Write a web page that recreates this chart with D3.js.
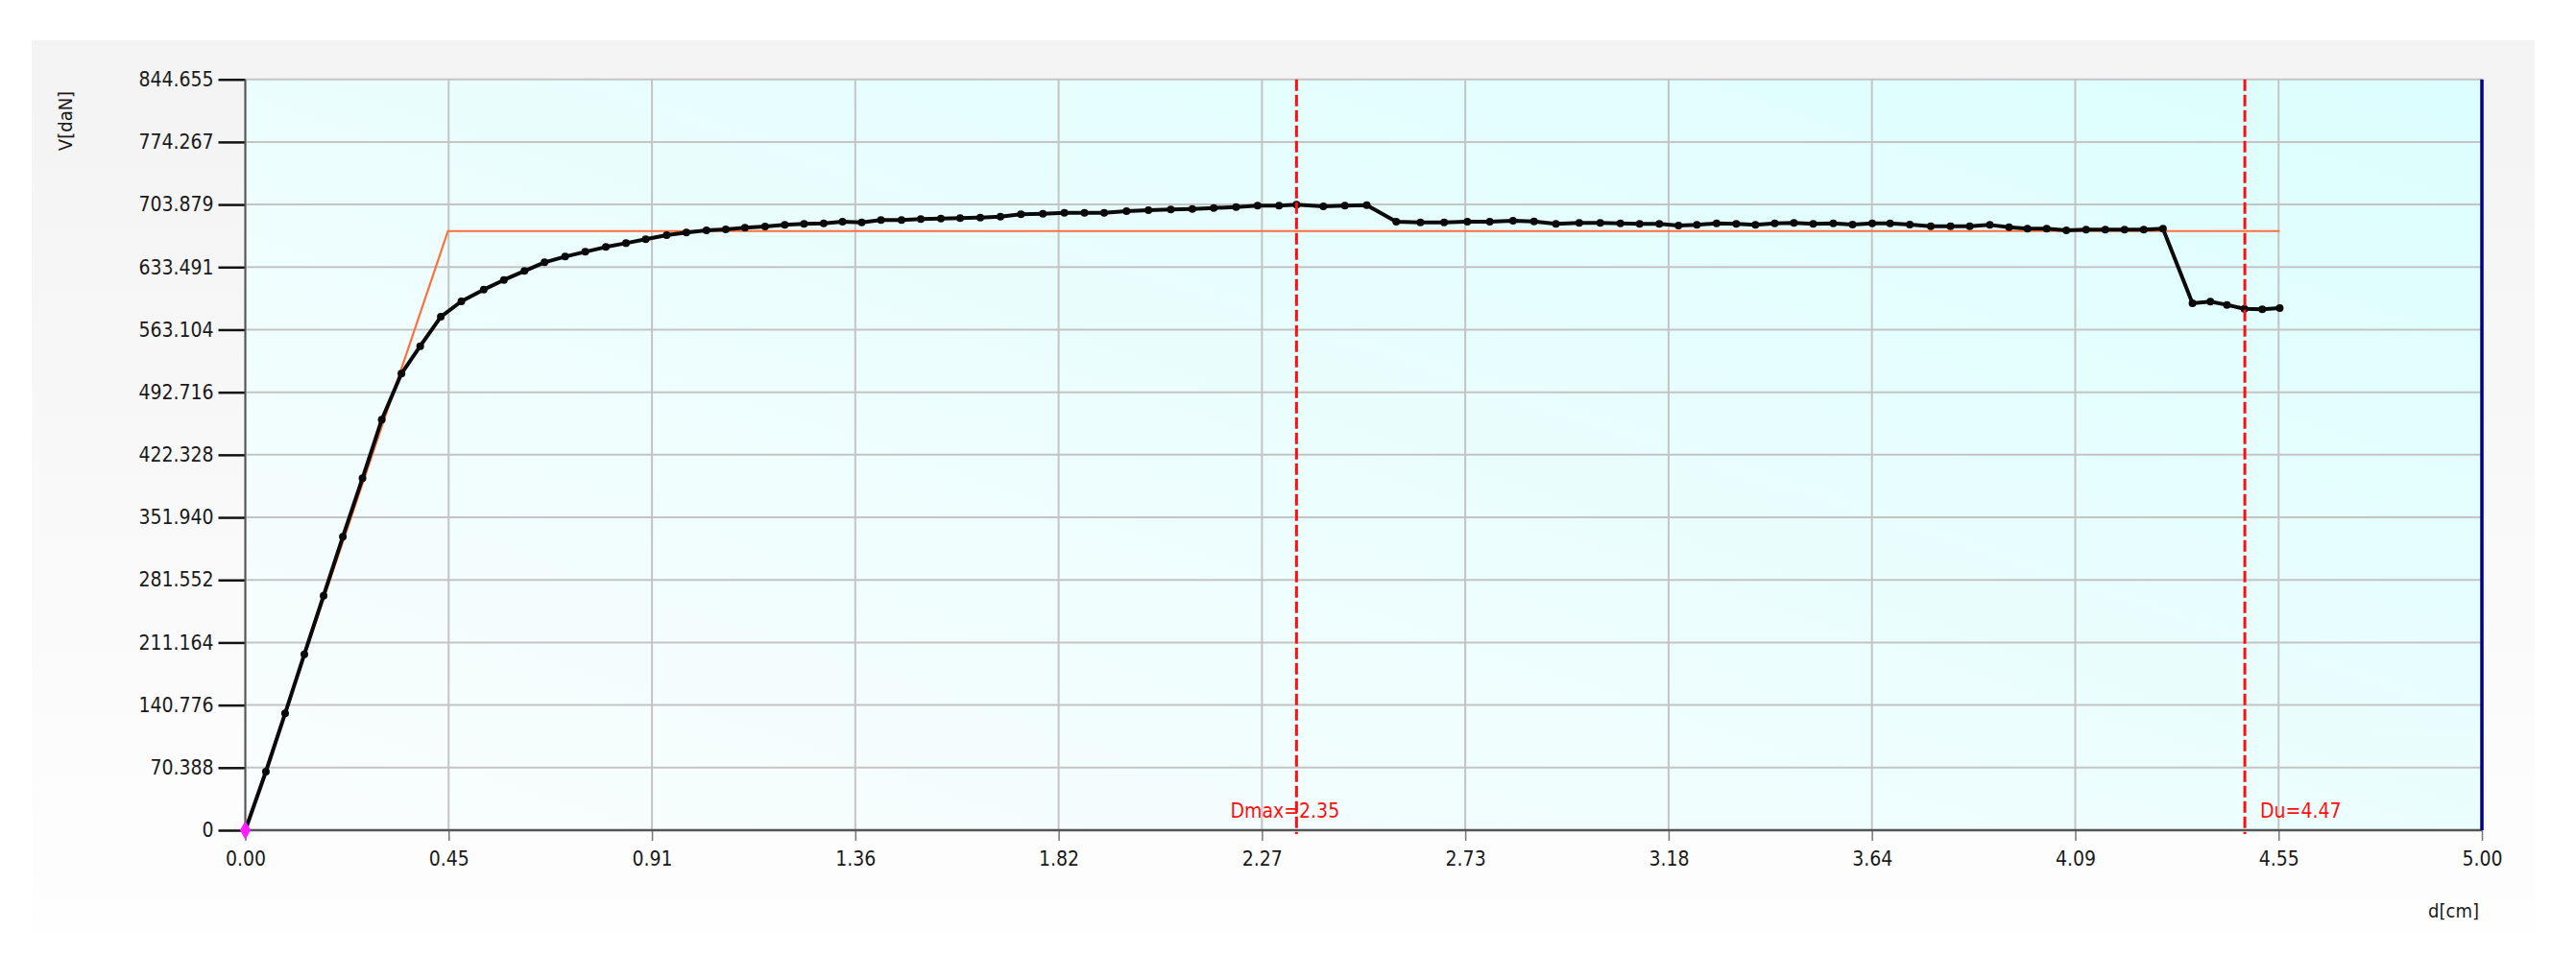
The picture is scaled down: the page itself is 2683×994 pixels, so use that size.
<!DOCTYPE html>
<html>
<head>
<meta charset="utf-8">
<script src="https://cdn.jsdelivr.net/npm/d3@7"></script>
<style>
  html, body { margin: 0; padding: 0; background: #ffffff; }
  svg text { font-family: "DejaVu Sans Condensed", "DejaVu Sans", sans-serif; }
</style>
</head>
<body>
<div id="chart"></div>
<script>
// Load-displacement curve (d in cm, V in daN)
const displacement = [0, 0.046, 0.089, 0.132, 0.175, 0.218, 0.262, 0.305, 0.349, 0.391,
    0.437, 0.483, 0.533, 0.578, 0.624, 0.669, 0.715, 0.760, 0.806, 0.851,
    0.895, 0.942, 0.986, 1.031, 1.074, 1.117, 1.162, 1.206, 1.249, 1.293,
    1.335, 1.378, 1.421, 1.467, 1.510, 1.555, 1.598, 1.643, 1.688, 1.734,
    1.783, 1.831, 1.876, 1.920, 1.970, 2.019, 2.069, 2.117, 2.165, 2.215,
    2.263, 2.311, 2.350, 2.410, 2.458, 2.507, 2.573, 2.627, 2.680, 2.732,
    2.782, 2.834, 2.881, 2.930, 2.982, 3.029, 3.074, 3.117, 3.161, 3.204,
    3.245, 3.289, 3.333, 3.376, 3.419, 3.462, 3.505, 3.550, 3.593, 3.637,
    3.677, 3.721, 3.768, 3.812, 3.855, 3.900, 3.943, 3.984, 4.027, 4.071,
    4.115, 4.158, 4.201, 4.244, 4.287, 4.353, 4.393, 4.430, 4.469, 4.509,
    4.548];
const load = [0, 65.9, 131.4, 197.9, 263.8, 330.0, 395.9, 461.8, 513.6, 544.5,
    577.6, 594.9, 608.2, 619.0, 629.1, 638.8, 645.3, 650.7, 656.1, 660.4,
    664.8, 669.4, 672.3, 674.8, 675.9, 677.7, 679.1, 680.9, 682.0, 682.7,
    684.5, 683.8, 686.4, 686.4, 687.4, 688.1, 688.5, 689.2, 690.3, 692.8,
    693.5, 694.6, 694.6, 694.6, 696.4, 697.5, 698.2, 698.9, 700.0, 701.1,
    702.6, 702.6, 703.8, 701.8, 702.6, 703.2, 684.5, 683.8, 683.8, 684.5,
    684.5, 685.6, 684.9, 682.0, 683.1, 683.1, 682.7, 682.0, 682.0, 680.2,
    680.9, 682.7, 682.0, 680.9, 682.7, 683.1, 682.0, 682.7, 681.3, 682.7,
    682.7, 681.3, 679.5, 679.5, 679.5, 680.9, 678.4, 676.6, 676.6, 674.8,
    675.6, 675.6, 675.6, 675.6, 676.6, 592.8, 594.6, 591.0, 586.6, 585.9,
    587.3];

// Bilinear idealisation (orange)
const bilinearD = [0, 0.453, 4.548];
const bilinearV = [0, 674, 674];

// Reference lines
const markerValues = [2.35, 4.47];
const markerLabels = ['Dmax=2.35', 'Du=4.47'];

// Axis ticks
const xMax = 5.0;
const yMax = 844.655;
const xTickLabels = ['0.00', '0.45', '0.91', '1.36', '1.82', '2.27', '2.73', '3.18', '3.64', '4.09', '4.55', '5.00'];
const yTickLabels = ['0', '70.388', '140.776', '211.164', '281.552', '351.940', '422.328',
    '492.716', '563.104', '633.491', '703.879', '774.267', '844.655'];

const W = 2683, H = 994;
const plot = {left: 255.5, right: 2585, top: 82.7, bottom: 865};
const fontSize = 21;

const svg = d3.select('#chart')
    .append('svg')
    .attr('width', W)
    .attr('height', H);

const defs = svg.append('defs');

// panel background
const panelGrad = defs.append('linearGradient')
    .attr('id', 'panel-grad')
    .attr('x1', 0).attr('y1', 0).attr('x2', 0).attr('y2', 1);
panelGrad.append('stop').attr('offset', '0%').attr('stop-color', '#f3f3f3');
panelGrad.append('stop').attr('offset', '100%').attr('stop-color', '#fefefe');

const plotGrad = defs.append('linearGradient')
    .attr('id', 'plot-grad')
    .attr('x1', 0).attr('y1', 1).attr('x2', 1).attr('y2', 0);
plotGrad.append('stop').attr('offset', '0%').attr('stop-color', '#fafdfd');
plotGrad.append('stop').attr('offset', '100%').attr('stop-color', '#dcfefe');

svg.append('rect')
    .attr('x', 33).attr('y', 42)
    .attr('width', 2640 - 33).attr('height', 973 - 42)
    .attr('fill', 'url(#panel-grad)');

svg.append('rect')
    .attr('x', plot.left).attr('y', plot.top)
    .attr('width', plot.right - plot.left).attr('height', plot.bottom - plot.top)
    .attr('fill', 'url(#plot-grad)');

// scales
const x = d3.scaleLinear().domain([0, xMax]).range([plot.left, plot.right]);
const y = d3.scaleLinear().domain([0, yMax]).range([plot.bottom, plot.top]);

const xTicks = xTickLabels.map((_, i) => i * xMax / (xTickLabels.length - 1));
const yTicks = yTickLabels.map((_, i) => i * yMax / (yTickLabels.length - 1));

// grid
svg.append('g')
    .selectAll('line')
    .data(yTicks)
    .enter()
    .append('line')
    .attr('x1', plot.left).attr('x2', plot.right)
    .attr('y1', d => y(d)).attr('y2', d => y(d))
    .attr('stroke', '#c4c4c4')
    .attr('stroke-width', 2);

svg.append('g')
    .selectAll('line')
    .data(xTicks)
    .enter()
    .append('line')
    .attr('x1', d => x(d)).attr('x2', d => x(d))
    .attr('y1', plot.top).attr('y2', plot.bottom)
    .attr('stroke', '#c4c4c4')
    .attr('stroke-width', 2);

// Y axis
const yAxis = svg.append('g')
    .attr('transform', `translate(${plot.left},0)`)
    .call(d3.axisLeft(y)
        .tickValues(yTicks)
        .tickFormat((d, i) => yTickLabels[i])
        .tickSize(28)
        .tickPadding(5));
yAxis.select('.domain').remove();
yAxis.selectAll('.tick line').attr('stroke', '#111').attr('stroke-width', 2.5);
yAxis.selectAll('.tick text')
    .attr('fill', '#1a1a1a')
    .style('font-size', fontSize + 'px');

// X axis
const xAxis = svg.append('g')
    .attr('transform', `translate(0,${plot.bottom})`)
    .call(d3.axisBottom(x)
        .tickValues(xTicks)
        .tickFormat((d, i) => xTickLabels[i])
        .tickSize(11)
        .tickPadding(11));
xAxis.select('.domain').remove();
xAxis.selectAll('.tick line').attr('stroke', '#777').attr('stroke-width', 1.5);
xAxis.selectAll('.tick text')
    .attr('fill', '#1a1a1a')
    .style('font-size', fontSize + 'px');

// axis lines
svg.append('line')
    .attr('x1', plot.left).attr('x2', plot.left)
    .attr('y1', plot.top).attr('y2', plot.bottom)
    .attr('stroke', '#555').attr('stroke-width', 2);
svg.append('line')
    .attr('x1', plot.left).attr('x2', plot.right)
    .attr('y1', plot.bottom).attr('y2', plot.bottom)
    .attr('stroke', '#555').attr('stroke-width', 2.5);
svg.append('line')
    .attr('x1', plot.right).attr('x2', plot.right)
    .attr('y1', plot.top).attr('y2', plot.bottom)
    .attr('stroke', '#00008b').attr('stroke-width', 3.5);

// axis titles
svg.append('text')
    .attr('transform', `translate(75,126) rotate(-90)`)
    .style('text-anchor', 'middle')
    .style('font-size', '20px')
    .attr('fill', '#1a1a1a')
    .text('V[daN]');

svg.append('text')
    .attr('x', 2582)
    .attr('y', 956)
    .style('text-anchor', 'end')
    .style('font-size', '20px')
    .attr('fill', '#1a1a1a')
    .text('d[cm]');

// bilinear line
const bilinear = bilinearD.map((d, i) => ({d: d, v: bilinearV[i]}));
svg.append('path')
    .datum(bilinear)
    .attr('fill', 'none')
    .attr('stroke', '#ff6f3c')
    .attr('stroke-width', 2.2)
    .attr('d', d3.line().x(p => x(p.d)).y(p => y(p.v)));

// data curve
const data = displacement.map((d, i) => ({d: d, v: load[i]}));
svg.append('path')
    .datum(data)
    .attr('fill', 'none')
    .attr('stroke', '#0a0a0a')
    .attr('stroke-width', 4)
    .attr('stroke-linejoin', 'round')
    .attr('d', d3.line().x(p => x(p.d)).y(p => y(p.v)));

svg.selectAll('.dot')
    .data(data.slice(1))
    .enter()
    .append('circle')
    .attr('class', 'dot')
    .attr('cx', p => x(p.d))
    .attr('cy', p => y(p.v))
    .attr('r', 4)
    .attr('fill', '#0a0a0a');

// origin marker
svg.append('path')
    .attr('d', d3.symbol().type(d3.symbolDiamond).size(110))
    .attr('transform', `translate(${x(0)},${y(0)})`)
    .attr('fill', '#ff1cff');

// Dmax / Du reference lines
markerValues.forEach((m, i) => {
    svg.append('line')
        .attr('x1', x(m)).attr('x2', x(m))
        .attr('y1', plot.top).attr('y2', plot.bottom + 4)
        .attr('stroke', '#ff1010')
        .attr('stroke-width', 3)
        .attr('stroke-dasharray', '12,4');
});

svg.append('text')
    .attr('x', x(markerValues[0]) - 12)
    .attr('y', 852)
    .style('text-anchor', 'middle')
    .style('font-size', fontSize + 'px')
    .attr('fill', '#ff1010')
    .text(markerLabels[0]);

svg.append('text')
    .attr('x', x(markerValues[1]) + 16)
    .attr('y', 852)
    .style('text-anchor', 'start')
    .style('font-size', fontSize + 'px')
    .attr('fill', '#ff1010')
    .text(markerLabels[1]);
</script>
</body>
</html>
